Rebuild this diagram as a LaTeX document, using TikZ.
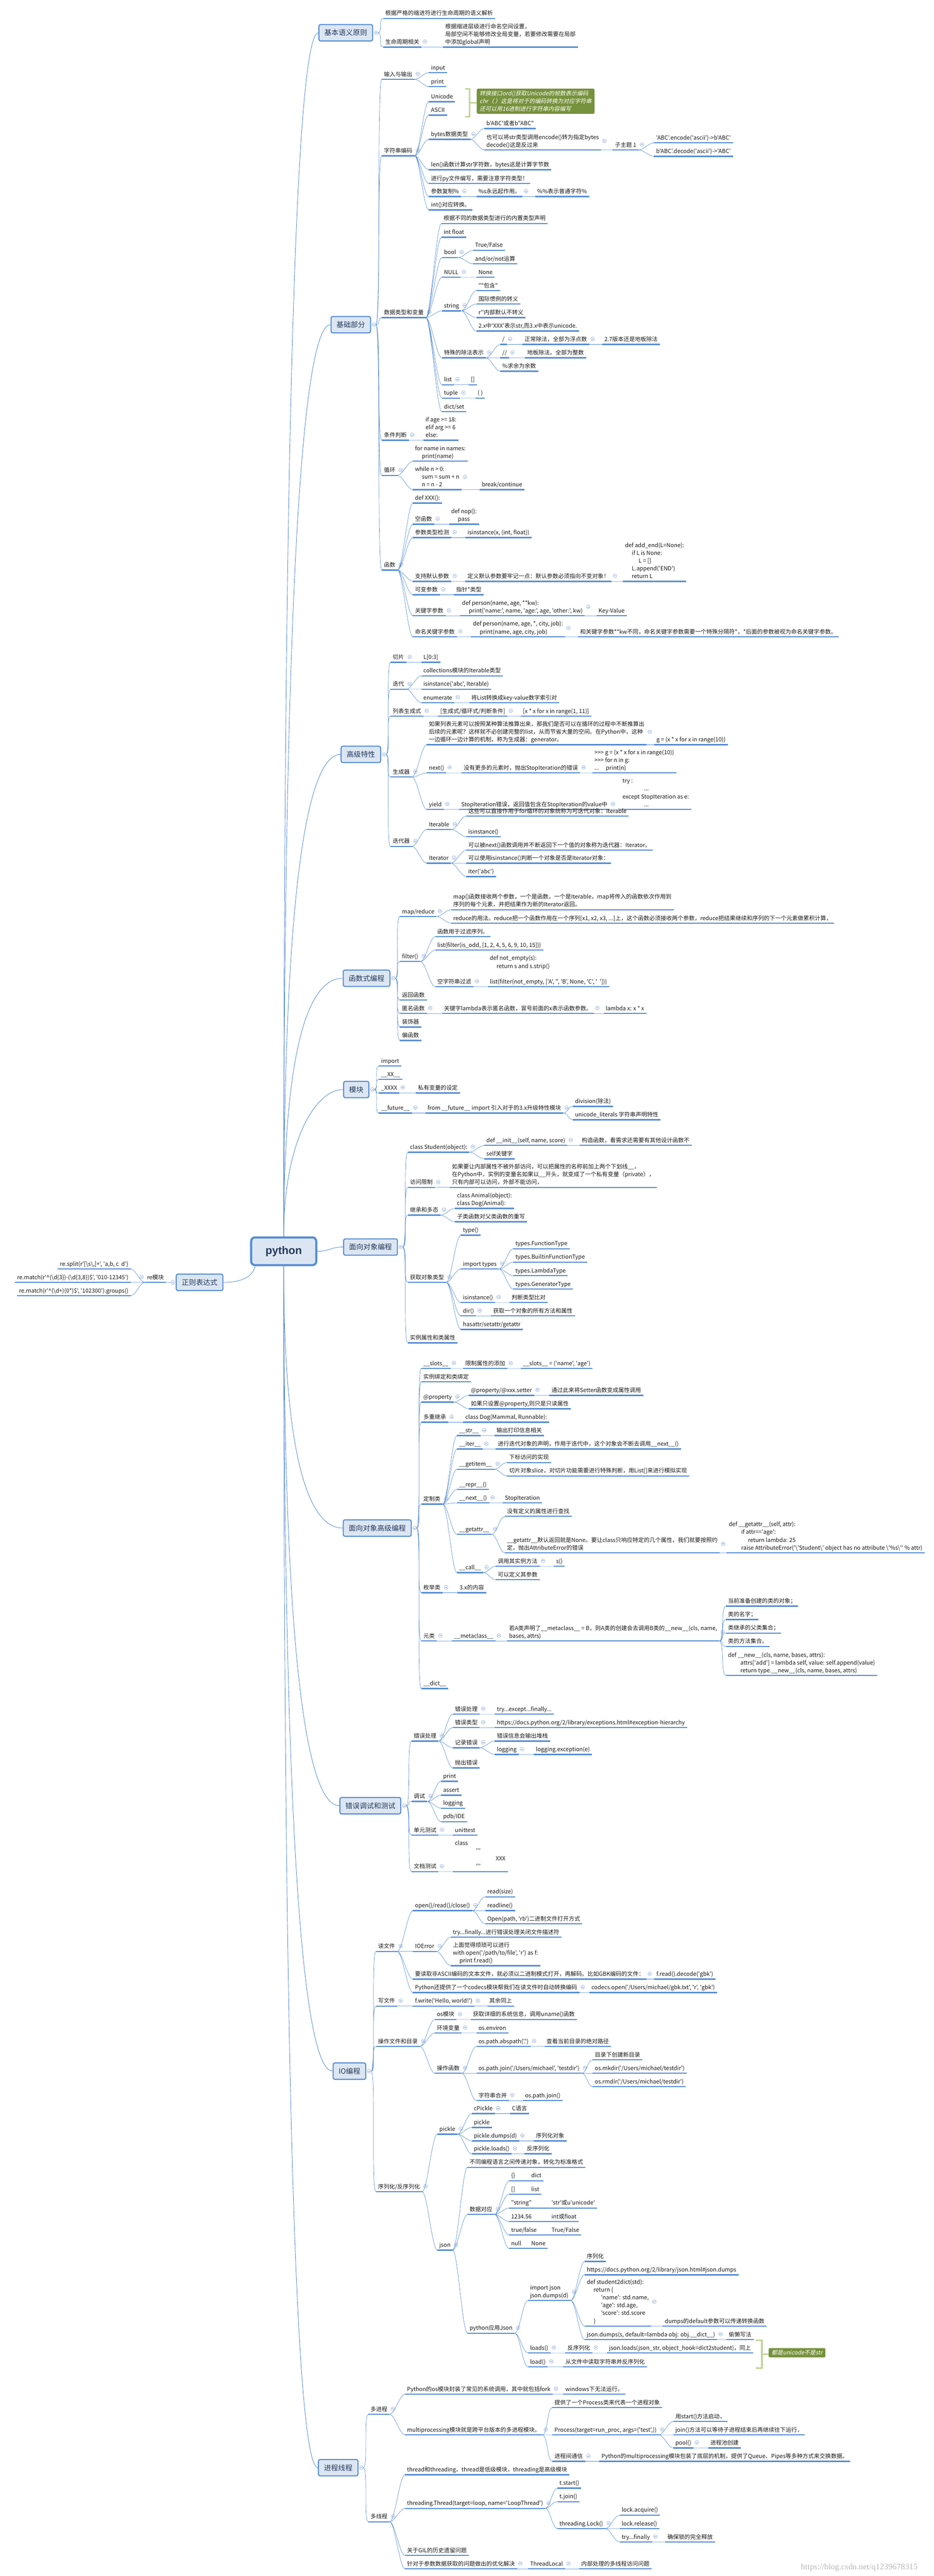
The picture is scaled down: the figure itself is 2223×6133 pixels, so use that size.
\documentclass[tikz,border=0pt]{standalone}
\usepackage{fontspec}
\setmainfont{Noto Sans CJK SC}[Ligatures=TeXOff]
\newfontfamily\slantfont{Noto Sans CJK SC}[FakeSlant=0.2,Ligatures=TeXOff]
\newfontfamily\rootfont{Liberation Sans}
\newfontfamily\markfont{Liberation Serif}
\usetikzlibrary{positioning}
\definecolor{mline}{RGB}{86,141,212}
\definecolor{boxfill}{RGB}{220,230,242}
\definecolor{titlec}{RGB}{36,56,92}
\definecolor{leafc}{RGB}{25,25,25}
\definecolor{callc}{RGB}{118,146,60}
\definecolor{bracec}{RGB}{195,214,155}
\definecolor{foldc}{RGB}{120,152,205}

\begin{document}
\begin{tikzpicture}[x=1pt, y=1pt,
  leaf/.style={anchor=south west, inner xsep=5pt, inner ysep=1.5pt, text=leafc, align=left,
    font=\fontsize{13.5}{18.5}\selectfont,
    execute at end node={\strut},
    append after command={\pgfextra{\pgfinterruptpath
      \draw[uline] (\tikzlastnode.south west) -- (\tikzlastnode.south east);
      \endpgfinterruptpath}}},
  leafl/.style={leaf, anchor=south east},
  uline/.style={draw=mline, line width=3pt},
  foldmark/.style={circle, draw=foldc, fill=white, line width=0.6pt, minimum size=9pt, inner sep=0pt,
    path picture={\draw[foldc, line width=0.7pt] ([xshift=-2.3pt]path picture bounding box.center) -- ([xshift=2.3pt]path picture bounding box.center);}},
  fold/.style={append after command={node[foldmark] at ([shift={(8pt,2pt)}]\tikzlastnode.east) {}}},
  foldl/.style={append after command={node[foldmark] at ([shift={(-8pt,2pt)}]\tikzlastnode.west) {}}},
  topic/.style={anchor=west, rounded corners=4pt, draw=mline, line width=2.5pt, fill=boxfill,
    text=titlec, font=\fontsize{17}{20}\selectfont, inner xsep=13pt, minimum height=39pt},
  tfold/.style={append after command={node[foldmark] at ([xshift=7pt]\tikzlastnode.east) {}}},
  tfoldl/.style={append after command={node[foldmark] at ([xshift=-7pt]\tikzlastnode.west) {}}},
  root/.style={rounded corners=9pt, draw=mline, line width=5pt, fill=boxfill, text=titlec,
    font=\rootfont\bfseries\fontsize{26}{30}\selectfont, minimum width=155pt, minimum height=66pt},
  link/.style={draw=mline, line width=0.8pt,
    to path={.. controls ([xshift=12pt]\tikztostart) and ([xshift=-12pt]\tikztotarget) .. (\tikztotarget)}},
  linkl/.style={draw=mline, line width=0.8pt,
    to path={.. controls ([xshift=-12pt]\tikztostart) and ([xshift=12pt]\tikztotarget) .. (\tikztotarget)}},
  trunk/.style={draw=mline, line width=1.1pt},
  callout/.style={anchor=north west, fill=callc, text=white, rounded corners=3pt, align=left,
    inner xsep=7pt, inner ysep=5pt, font=\slantfont\fontsize{13.5}{18.5}\selectfont},
  brace/.style={draw=bracec, line width=4pt},
  wmark/.style={text=black!28, font=\markfont\fontsize{20}{22}\selectfont}]

\useasboundingbox (0,0) rectangle (2223,-6133);
\fill[white] (0,0) rectangle (2223,-6133);

% root and main topics
\node[root] (python) at (675.5,-2979) {python};
\node[topic, tfold] (t1) at (758,-78) {基本语义原则};
\node[topic, tfold] (t2) at (787,-773) {基础部分};
\node[topic, tfold] (t3) at (811,-1796) {高级特性};
\node[topic, tfold] (t4) at (816,-2329) {函数式编程};
\node[topic, tfold] (t5) at (817,-2594) {模块};
\node[topic, tfold] (t6) at (817,-2969) {面向对象编程};
\node[topic, tfold] (t7) at (816,-3638) {面向对象高级编程};
\node[topic, tfold] (t8) at (808,-4299) {错误调试和测试};
\node[topic, tfold] (t9) at (792,-4931) {IO编程};
\node[topic, tfold] (t10) at (757,-5875) {进程线程};
\node[topic, tfoldl, anchor=east] (re) at (532,-3053) {正则表达式};
\coordinate (t1o) at ([xshift=11.5pt]t1.east);
\coordinate (t2o) at ([xshift=11.5pt]t2.east);
\coordinate (t3o) at ([xshift=11.5pt]t3.east);
\coordinate (t4o) at ([xshift=11.5pt]t4.east);
\coordinate (t5o) at ([xshift=11.5pt]t5.east);
\coordinate (t6o) at ([xshift=11.5pt]t6.east);
\coordinate (t7o) at ([xshift=11.5pt]t7.east);
\coordinate (t8o) at ([xshift=11.5pt]t8.east);
\coordinate (t9o) at ([xshift=11.5pt]t9.east);
\coordinate (t10o) at ([xshift=11.5pt]t10.east);
\coordinate (reo) at ([xshift=-11.5pt]re.west);

\draw[trunk] (python.north) .. controls (675.5,-651) and (717,-78) .. (t1.west);
\draw[trunk] (python.north) .. controls (675.5,-1207) and (732,-773) .. (t2.west);
\draw[trunk] (python.north) .. controls (675.5,-2025) and (744,-1796) .. (t3.west);
\draw[trunk] (python.north) .. controls (675.5,-2452) and (746,-2329) .. (t4.west);
\draw[trunk] (python.north) .. controls (675.5,-2720) and (750,-2594) .. (t5.west);
\draw[trunk] (python.east) .. controls (786,-2979) and (786,-2969) .. (t6.west);
\draw[trunk] (python.south) .. controls (675.5,-3513) and (746,-3638) .. (t7.west);
\draw[trunk] (python.south) .. controls (675.5,-4042) and (742,-4299) .. (t8.west);
\draw[trunk] (python.south) .. controls (675.5,-4548) and (734,-4931) .. (t9.west);
\draw[trunk] (python.south) .. controls (675.5,-5303) and (716,-5875) .. (t10.west);
\draw[trunk] ([xshift=12pt]python.south west) .. controls (600,-3045) and (565,-3053) .. (re.east);

% 基本语义原则
\node[leaf] (a1) at (912,-44) {根据严格的缩进符进行生命周期的语义解析};
\node[leaf, fold] (a2) at (912,-112) {生命周期相关};
\node[leaf] (a2a) at (1055,-112) {根据缩进层级进行命名空间设置，\\局部空间不能够修改全局变量，若要修改需要在局部\\中添加global声明};
\path[link] (t1o) to (a1.south west) (t1o) to (a2.south west)
  (a2.south east) to (a2a.south west);

% 基础部分
\node[leaf, fold] (b1) at (909,-189) {输入与输出};
\node[leaf] (b1a) at (1021,-173) {input};
\node[leaf] (b1b) at (1021,-206) {print};
\node[leaf, fold] (b2) at (909,-371) {字符串编码};
\node[leaf] (b2a) at (1021,-242) {Unicode};
\node[leaf] (b2b) at (1021,-274) {ASCII};
\node[leaf, fold] (b2c) at (1021,-332) {bytes数据类型};
\node[leaf] (b2c1) at (1153,-306) {b'ABC'或者b"ABC"};
\node[leaf, fold] (b2c2) at (1153,-357) {也可以将str类型调用encode()转为指定bytes\\decode()这是反过来};
\node[leaf, fold] (b2c3) at (1459,-357) {子主题 1};
\node[leaf] (b2c3a) at (1557,-340) {'ABC'.encode('ascii')->b'ABC'};
\node[leaf] (b2c3b) at (1557,-372) {b'ABC'.decode('ascii')->'ABC'};
\node[leaf] (b2d) at (1021,-404) {len()函数计算str字符数，bytes这是计算字节数};
\node[leaf] (b2e) at (1021,-437) {进行py文件编写，需要注意字符类型！};
\node[leaf, fold] (b2f) at (1021,-468) {参数复制\%};
\node[leaf, fold] (b2f1) at (1134,-468) {\%s永远起作用。};
\node[leaf] (b2f2) at (1274,-468) {\%\%表示普通字符\%};
\node[leaf] (b2g) at (1021,-500) {int()对应转换。};
\draw[brace] (1107,-212) -- (1118,-212) -- (1118,-278) -- (1107,-278) (1118,-245) -- (1135,-245);
\node[callout] (note1) at (1135,-211) {转换接口ord()获取Unicode的帧数表示编码\\chr（ ）这是将对于的编码转换为对应字符串\\还可以用16进制进行字符串内容编写};

\node[leaf, fold] (b3) at (909,-756) {数据类型和变量};
\node[leaf] (b3a) at (1051,-532) {根据不同的数据类型进行的内置类型声明};
\node[leaf] (b3b) at (1051,-565) {int float};
\node[leaf, fold] (b3c) at (1052,-613) {bool};
\node[leaf] (b3c1) at (1126,-596) {True/False};
\node[leaf] (b3c2) at (1126,-628) {and/or/not运算};
\node[leaf, fold] (b3d) at (1052,-660) {NULL};
\node[leaf] (b3d1) at (1134,-660) {None};
\node[leaf, fold] (b3e) at (1052,-740) {string};
\node[leaf] (b3e1) at (1134,-692) {""包含"};
\node[leaf] (b3e2) at (1134,-724) {国际惯例的转义};
\node[leaf] (b3e3) at (1134,-756) {r''内部默认不转义};
\node[leaf] (b3e4) at (1134,-788) {2.x中'XXX'表示str,而3.x中表示unicode.};
\node[leaf, fold] (b3f) at (1052,-852) {特殊的除法表示};
\node[leaf, fold] (b3f1) at (1191,-820) {/};
\node[leaf, fold] (b3f1a) at (1244,-820) {正常除法，全部为浮点数};
\node[leaf] (b3f1b) at (1434,-820) {2.7版本还是地板除法};
\node[leaf, fold] (b3f2) at (1191,-852) {//};
\node[leaf] (b3f2a) at (1250,-852) {地板除法。全部为整数};
\node[leaf] (b3f3) at (1191,-884) {\%求余为余数};
\node[leaf, fold] (b3g) at (1052,-916) {list};
\node[leaf] (b3g1) at (1116,-916) {[]};
\node[leaf, fold] (b3h) at (1052,-948) {tuple};
\node[leaf] (b3h1) at (1132,-948) {( )};
\node[leaf] (b3i) at (1052,-980) {dict/set};

\node[leaf, fold] (b4) at (909,-1048) {条件判断};
\node[leaf] (b4a) at (1008,-1048) {if age >= 18:\\elif arg >= 6\\else:};
\node[leaf, fold] (b5) at (909,-1132) {循环};
\node[leaf] (b5a) at (983,-1098) {for name in names:\\\hspace*{1.2em}print(name)};
\node[leaf, fold] (b5b) at (983,-1166) {while n > 0:\\\hspace*{1.2em}sum = sum + n\\\hspace*{1.2em}n = n - 2};
\node[leaf] (b5b1) at (1142,-1166) {break/continue};

\node[leaf, fold] (b6) at (909,-1357) {函数};
\node[leaf] (b6a) at (983,-1198) {def XXX():};
\node[leaf, fold] (b6b) at (983,-1248) {空函数};
\node[leaf] (b6b1) at (1069,-1248) {def nop():\\\hspace*{1.2em}pass};
\node[leaf, fold] (b6c) at (983,-1280) {参数类型检测};
\node[leaf] (b6c1) at (1108,-1280) {isinstance(x, (int, float))};
\node[leaf, fold] (b6d) at (983,-1384) {支持默认参数};
\node[leaf, fold] (b6d1) at (1108,-1384) {定义默认参数要牢记一点：默认参数必须指向不变对象！};
\node[leaf] (b6d2) at (1483,-1384) {def add\_end(L=None):\\\hspace*{1.2em}if L is None:\\\hspace*{2.4em}L = []\\\hspace*{1.2em}L.append('END')\\\hspace*{1.2em}return L};
\node[leaf, fold] (b6e) at (983,-1416) {可变参数};
\node[leaf] (b6e1) at (1081,-1416) {指针*类型};
\node[leaf, fold] (b6f) at (983,-1466) {关键字参数};
\node[leaf, fold] (b6f1) at (1095,-1466) {def person(name, age, **kw):\\\hspace*{1.2em}print('name:', name, 'age:', age, 'other:', kw)};
\node[leaf] (b6f2) at (1420,-1466) {Key-Value};
\node[leaf, fold] (b6g) at (983,-1516) {命名关键字参数};
\node[leaf, fold] (b6g1) at (1121,-1516) {def person(name, age, *, city, job):\\\hspace*{1.2em}print(name, age, city, job)};
\node[leaf] (b6g2) at (1376,-1516) {和关键字参数**kw不同，命名关键字参数需要一个特殊分隔符*，*后面的参数被视为命名关键字参数。};

\path[link] (t2o) to (b1.south west) (t2o) to (b2.south west) (t2o) to (b3.south west)
  (t2o) to (b4.south west) (t2o) to (b5.south west) (t2o) to (b6.south west)
  (b1.south east) to (b1a.south west) (b1.south east) to (b1b.south west)
  (b2.south east) to (b2a.south west) (b2.south east) to (b2b.south west)
  (b2.south east) to (b2c.south west) (b2.south east) to (b2d.south west)
  (b2.south east) to (b2e.south west) (b2.south east) to (b2f.south west)
  (b2.south east) to (b2g.south west)
  (b2c.south east) to (b2c1.south west) (b2c.south east) to (b2c2.south west)
  (b2c2.south east) to (b2c3.south west)
  (b2c3.south east) to (b2c3a.south west) (b2c3.south east) to (b2c3b.south west)
  (b2f.south east) to (b2f1.south west) (b2f1.south east) to (b2f2.south west)
  (b3.south east) to (b3a.south west) (b3.south east) to (b3b.south west)
  (b3.south east) to (b3c.south west) (b3.south east) to (b3d.south west)
  (b3.south east) to (b3e.south west) (b3.south east) to (b3f.south west)
  (b3.south east) to (b3g.south west) (b3.south east) to (b3h.south west)
  (b3.south east) to (b3i.south west)
  (b3c.south east) to (b3c1.south west) (b3c.south east) to (b3c2.south west)
  (b3d.south east) to (b3d1.south west)
  (b3e.south east) to (b3e1.south west) (b3e.south east) to (b3e2.south west)
  (b3e.south east) to (b3e3.south west) (b3e.south east) to (b3e4.south west)
  (b3f.south east) to (b3f1.south west) (b3f.south east) to (b3f2.south west)
  (b3f.south east) to (b3f3.south west)
  (b3f1.south east) to (b3f1a.south west) (b3f1a.south east) to (b3f1b.south west)
  (b3f2.south east) to (b3f2a.south west)
  (b3g.south east) to (b3g1.south west) (b3h.south east) to (b3h1.south west)
  (b4.south east) to (b4a.south west)
  (b5.south east) to (b5a.south west) (b5.south east) to (b5b.south west)
  (b5b.south east) to (b5b1.south west)
  (b6.south east) to (b6a.south west) (b6.south east) to (b6b.south west)
  (b6.south east) to (b6c.south west) (b6.south east) to (b6d.south west)
  (b6.south east) to (b6e.south west) (b6.south east) to (b6f.south west)
  (b6.south east) to (b6g.south west)
  (b6b.south east) to (b6b1.south west) (b6c.south east) to (b6c1.south west)
  (b6d.south east) to (b6d1.south west) (b6d1.south east) to (b6d2.south west)
  (b6e.south east) to (b6e1.south west)
  (b6f.south east) to (b6f1.south west) (b6f1.south east) to (b6f2.south west)
  (b6g.south east) to (b6g1.south west) (b6g1.south east) to (b6g2.south west);

% 高级特性
\node[leaf, fold] (c1) at (930,-1577) {切片};
\node[leaf] (c1a) at (1003,-1577) {L[0:3]};
\node[leaf, fold] (c2) at (930,-1641) {迭代};
\node[leaf] (c2a) at (1003,-1609) {collections模块的Iterable类型};
\node[leaf] (c2b) at (1003,-1641) {isinstance('abc', Iterable)};
\node[leaf, fold] (c2c) at (1003,-1673) {enumerate};
\node[leaf] (c2c1) at (1117,-1673) {将List转换成key-value数字索引对};
\node[leaf, fold] (c3) at (930,-1705) {列表生成式};
\node[leaf, fold] (c3a) at (1043,-1705) {[生成式/循环式/判断条件]};
\node[leaf] (c3b) at (1240,-1705) {[x * x for x in range(1, 11)]};
\node[leaf, fold] (c4) at (930,-1850) {生成器};
\node[leaf, fold] (c4a) at (1016,-1773) {如果列表元素可以按照某种算法推算出来，那我们是否可以在循环的过程中不断推算出\\后续的元素呢？这样就不必创建完整的list，从而节省大量的空间。在Python中，这种\\一边循环一边计算的机制，称为生成器：generator。};
\node[leaf] (c4a1) at (1558,-1773) {g = (x * x for x in range(10))};
\node[leaf, fold] (c4b) at (1016,-1840) {next()};
\node[leaf, fold] (c4b1) at (1099,-1840) {没有更多的元素时，抛出StopIteration的错误};
\node[leaf] (c4b2) at (1410,-1840) {>>> g = (x * x for x in range(10))\\>>> for n in g:\\...\hspace*{1.2em}print(n)};
\node[leaf, fold] (c4c) at (1016,-1927) {yield};
\node[leaf, fold] (c4c1) at (1093,-1927) {StopIteration错误，返回值包含在StopIteration的value中};
\node[leaf] (c4c2) at (1477,-1927) {try :\\\hspace*{3.8em}...\\except StopIteration as e:\\\hspace*{3.8em}...};
\node[leaf, fold] (c5) at (930,-2015) {迭代器};
\node[leaf, fold] (c5a) at (1016,-1975) {Iterable};
\node[leaf] (c5a1) at (1110,-1943) {这些可以直接作用于for循环的对象统称为可迭代对象：Iterable};
\node[leaf] (c5a2) at (1110,-1992) {isinstance()};
\node[leaf, fold] (c5b) at (1016,-2055) {Iterator};
\node[leaf] (c5b1) at (1110,-2024) {可以被next()函数调用并不断返回下一个值的对象称为迭代器：Iterator。};
\node[leaf] (c5b2) at (1110,-2055) {可以使用isinstance()判断一个对象是否是Iterator对象：};
\node[leaf] (c5b3) at (1110,-2087) {iter('abc')};

\path[link] (t3o) to (c1.south west) (t3o) to (c2.south west) (t3o) to (c3.south west)
  (t3o) to (c4.south west) (t3o) to (c5.south west)
  (c1.south east) to (c1a.south west)
  (c2.south east) to (c2a.south west) (c2.south east) to (c2b.south west)
  (c2.south east) to (c2c.south west) (c2c.south east) to (c2c1.south west)
  (c3.south east) to (c3a.south west) (c3a.south east) to (c3b.south west)
  (c4.south east) to (c4a.south west) (c4.south east) to (c4b.south west)
  (c4.south east) to (c4c.south west) (c4a.south east) to (c4a1.south west)
  (c4b.south east) to (c4b1.south west) (c4b1.south east) to (c4b2.south west)
  (c4c.south east) to (c4c1.south west) (c4c1.south east) to (c4c2.south west)
  (c5.south east) to (c5a.south west) (c5.south east) to (c5b.south west)
  (c5a.south east) to (c5a1.south west) (c5a.south east) to (c5a2.south west)
  (c5b.south east) to (c5b1.south west) (c5b.south east) to (c5b2.south west)
  (c5b.south east) to (c5b3.south west);

% 函数式编程
\node[leaf, fold] (d1) at (952,-2182) {map/reduce};
\node[leaf] (d1a) at (1074,-2166) {map()函数接收两个参数，一个是函数，一个是Iterable，map将传入的函数依次作用到\\序列的每个元素，并把结果作为新的Iterator返回。};
\node[leaf] (d1b) at (1074,-2198) {reduce的用法。reduce把一个函数作用在一个序列[x1, x2, x3, ...]上，这个函数必须接收两个参数，reduce把结果继续和序列的下一个元素做累积计算，};
\node[leaf, fold] (d2) at (952,-2289) {filter()};
\node[leaf] (d2a) at (1036,-2230) {函数用于过滤序列。};
\node[leaf] (d2b) at (1036,-2262) {list(filter(is\_odd, [1, 2, 4, 5, 6, 9, 10, 15]))};
\node[leaf, fold] (d2c) at (1036,-2349) {空字符串过滤};
\node[leaf] (d2c1) at (1161,-2349) {def not\_empty(s):\\\hspace*{1.2em}return s and s.strip()\\ \\list(filter(not\_empty, ['A', '', 'B', None, 'C', '\ \ ']))};
\node[leaf] (d3) at (952,-2381) {返回函数};
\node[leaf, fold] (d4) at (952,-2413) {匿名函数};
\node[leaf, fold] (d4a) at (1052,-2413) {关键字lambda表示匿名函数，冒号前面的x表示函数参数。};
\node[leaf] (d4b) at (1437,-2413) {lambda x: x * x};
\node[leaf] (d5) at (952,-2445) {装饰器};
\node[leaf] (d6) at (952,-2477) {偏函数};

\path[link] (t4o) to (d1.south west) (t4o) to (d2.south west) (t4o) to (d3.south west)
  (t4o) to (d4.south west) (t4o) to (d5.south west) (t4o) to (d6.south west)
  (d1.south east) to (d1a.south west) (d1.south east) to (d1b.south west)
  (d2.south east) to (d2a.south west) (d2.south east) to (d2b.south west)
  (d2.south east) to (d2c.south west) (d2c.south east) to (d2c1.south west)
  (d4.south east) to (d4a.south west) (d4a.south east) to (d4b.south west);

% 模块
\node[leaf] (e1) at (902,-2538) {import};
\node[leaf] (e2) at (902,-2570) {\_\_XX\_\_};
\node[leaf, fold] (e3) at (902,-2602) {\_XXXX};
\node[leaf] (e3a) at (990,-2602) {私有变量的设定};
\node[leaf, fold] (e4) at (902,-2650) {\_\_future\_\_};
\node[leaf, fold] (e4a) at (1013,-2650) {from \_\_future\_\_ import 引入对于的3.x升级特性模块};
\node[leaf] (e4a1) at (1364,-2634) {division(除法)};
\node[leaf] (e4a2) at (1364,-2666) {unicode\_literals 字符串声明特性};

\path[link] (t5o) to (e1.south west) (t5o) to (e2.south west) (t5o) to (e3.south west)
  (t5o) to (e4.south west)
  (e3.south east) to (e3a.south west) (e4.south east) to (e4a.south west)
  (e4a.south east) to (e4a1.south west) (e4a.south east) to (e4a2.south west);

% 面向对象编程
\node[leaf, fold] (f1) at (971,-2743) {class Student(object):};
\node[leaf, fold] (f1a) at (1153,-2727) {def \_\_init\_\_(self, name, score)};
\node[leaf] (f1a1) at (1380,-2727) {构造函数，看需求还需要有其他设计函数不};
\node[leaf] (f1b) at (1153,-2759) {self关键字};
\node[leaf, fold] (f2) at (971,-2827) {访问限制};
\node[leaf] (f2a) at (1071,-2827) {如果要让内部属性不被外部访问，可以把属性的名称前加上两个下划线\_\_，\\在Python中，实例的变量名如果以\_\_开头，就变成了一个私有变量（private），\\只有内部可以访问，外部不能访问，};
\node[leaf, fold] (f3) at (971,-2893) {继承和多态};
\node[leaf] (f3a) at (1083,-2877) {class Animal(object):\\class Dog(Animal):};
\node[leaf] (f3b) at (1083,-2909) {子类函数对父类函数的重写};
\node[leaf, fold] (f4) at (971,-3053) {获取对象类型};
\node[leaf] (f4a) at (1097,-2941) {type()};
\node[leaf, fold] (f4b) at (1097,-3021) {import types};
\node[leaf] (f4b1) at (1222,-2973) {types.FunctionType};
\node[leaf] (f4b2) at (1222,-3005) {types.BuiltinFunctionType};
\node[leaf] (f4b3) at (1222,-3037) {types.LambdaType};
\node[leaf] (f4b4) at (1222,-3069) {types.GeneratorType};
\node[leaf, fold] (f4c) at (1097,-3101) {isinstance()};
\node[leaf] (f4c1) at (1213,-3101) {判断类型比对};
\node[leaf, fold] (f4d) at (1097,-3133) {dir()};
\node[leaf] (f4d1) at (1169,-3133) {获取一个对象的所有方法和属性};
\node[leaf] (f4e) at (1097,-3165) {hasattr/setattr/getattr};
\node[leaf] (f5) at (971,-3197) {实例属性和类属性};

\path[link] (t6o) to (f1.south west) (t6o) to (f2.south west) (t6o) to (f3.south west)
  (t6o) to (f4.south west) (t6o) to (f5.south west)
  (f1.south east) to (f1a.south west) (f1.south east) to (f1b.south west)
  (f1a.south east) to (f1a1.south west) (f2.south east) to (f2a.south west)
  (f3.south east) to (f3a.south west) (f3.south east) to (f3b.south west)
  (f4.south east) to (f4a.south west) (f4.south east) to (f4b.south west)
  (f4.south east) to (f4c.south west) (f4.south east) to (f4d.south west)
  (f4.south east) to (f4e.south west)
  (f4b.south east) to (f4b1.south west) (f4b.south east) to (f4b2.south west)
  (f4b.south east) to (f4b3.south west) (f4b.south east) to (f4b4.south west)
  (f4c.south east) to (f4c1.south west) (f4d.south east) to (f4d1.south west);

% 面向对象高级编程
\node[leaf, fold] (g1) at (1003,-3258) {\_\_slots\_\_};
\node[leaf, fold] (g1a) at (1103,-3258) {限制属性的添加};
\node[leaf] (g1b) at (1240,-3258) {\_\_slots\_\_ = ('name', 'age')};
\node[leaf] (g2) at (1003,-3290) {实例绑定和类绑定};
\node[leaf, fold] (g3) at (1003,-3338) {@property};
\node[leaf, fold] (g3a) at (1116,-3322) {@property/@xxx.setter};
\node[leaf] (g3a1) at (1308,-3322) {通过此来将Setter函数变成属性调用};
\node[leaf] (g3b) at (1116,-3354) {如果只设置@property,则只是只读属性};
\node[leaf, fold] (g4) at (1003,-3386) {多重继承};
\node[leaf] (g4a) at (1103,-3386) {class Dog(Mammal, Runnable):};
\node[leaf, fold] (g5) at (1003,-3581) {定制类};
\node[leaf, fold] (g5a) at (1088,-3418) {\_\_str\_\_};
\node[leaf] (g5a1) at (1177,-3418) {输出打印信息相关};
\node[leaf, fold] (g5b) at (1088,-3450) {\_\_iter\_\_};
\node[leaf] (g5b1) at (1180,-3450) {进行迭代对象的声明，作用于迭代中，这个对象会不断去调用\_\_next\_\_()};
\node[leaf, fold] (g5c) at (1088,-3498) {\_\_getitem\_\_};
\node[leaf] (g5c1) at (1207,-3482) {下标访问的实现};
\node[leaf] (g5c2) at (1207,-3514) {切片对象slice，对切片功能需要进行特殊判断，用List[]来进行模拟实现};
\node[leaf] (g5d) at (1088,-3546) {\_\_repr\_\_()};
\node[leaf, fold] (g5e) at (1088,-3578) {\_\_next\_\_()};
\node[leaf] (g5e1) at (1197,-3578) {StopIteration};
\node[leaf, fold] (g5f) at (1088,-3653) {\_\_getattr\_\_};
\node[leaf] (g5f1) at (1202,-3610) {没有定义的属性进行查找};
\node[leaf, fold] (g5f2) at (1202,-3697) {\_\_getattr\_\_默认返回就是None。要让class只响应特定的几个属性，我们就要按照约\\定，抛出AttributeError的错误};
\node[leaf] (g5f3) at (1730,-3697) {def \_\_getattr\_\_(self, attr):\\\hspace*{2.2em}if attr=='age':\\\hspace*{3.4em}return lambda: 25\\\hspace*{2.2em}raise AttributeError('\textbackslash'Student\textbackslash' object has no attribute \textbackslash'\%s\textbackslash'' \% attr)};
\node[leaf, fold] (g5g) at (1088,-3744) {\_\_call\_\_};
\node[leaf, fold] (g5g1) at (1180,-3729) {调用其实例方法};
\node[leaf] (g5g1a) at (1319,-3729) {s()};
\node[leaf] (g5g2) at (1180,-3761) {可以定义其参数};
\node[leaf, fold] (g6) at (1003,-3792) {枚举类};
\node[leaf] (g6a) at (1089,-3792) {3.x的内容};
\node[leaf, fold] (g7) at (1003,-3907) {元类};
\node[leaf, fold] (g7a) at (1076,-3907) {\_\_metaclass\_\_};
\node[leaf, fold] (g7b) at (1207,-3907) {若A类声明了\_\_metaclass\_\_ = B，则A类的创建会去调用B类的\_\_new\_\_(cls, name,\\bases, attrs)};
\node[leaf] (g7b1) at (1728,-3824) {当前准备创建的类的对象；};
\node[leaf] (g7b2) at (1728,-3856) {类的名字；};
\node[leaf] (g7b3) at (1728,-3888) {类继承的父类集合；};
\node[leaf] (g7b4) at (1728,-3920) {类的方法集合。};
\node[leaf] (g7b5) at (1728,-3989) {def \_\_new\_\_(cls, name, bases, attrs):\\\hspace*{2.2em}attrs['add'] = lambda self, value: self.append(value)\\\hspace*{2.2em}return type.\_\_new\_\_(cls, name, bases, attrs)};
\node[leaf] (g8) at (1003,-4020) {\_\_dict\_\_};

\path[link] (t7o) to (g1.south west) (t7o) to (g2.south west) (t7o) to (g3.south west)
  (t7o) to (g4.south west) (t7o) to (g5.south west) (t7o) to (g6.south west)
  (t7o) to (g7.south west) (t7o) to (g8.south west)
  (g1.south east) to (g1a.south west) (g1a.south east) to (g1b.south west)
  (g3.south east) to (g3a.south west) (g3.south east) to (g3b.south west)
  (g3a.south east) to (g3a1.south west) (g4.south east) to (g4a.south west)
  (g5.south east) to (g5a.south west) (g5.south east) to (g5b.south west)
  (g5.south east) to (g5c.south west) (g5.south east) to (g5d.south west)
  (g5.south east) to (g5e.south west) (g5.south east) to (g5f.south west)
  (g5.south east) to (g5g.south west)
  (g5a.south east) to (g5a1.south west) (g5b.south east) to (g5b1.south west)
  (g5c.south east) to (g5c1.south west) (g5c.south east) to (g5c2.south west)
  (g5e.south east) to (g5e1.south west)
  (g5f.south east) to (g5f1.south west) (g5f.south east) to (g5f2.south west)
  (g5f2.south east) to (g5f3.south west)
  (g5g.south east) to (g5g1.south west) (g5g.south east) to (g5g2.south west)
  (g5g1.south east) to (g5g1a.south west)
  (g6.south east) to (g6a.south west)
  (g7.south east) to (g7a.south west) (g7a.south east) to (g7b.south west)
  (g7b.south east) to (g7b1.south west) (g7b.south east) to (g7b2.south west)
  (g7b.south east) to (g7b3.south west) (g7b.south east) to (g7b4.south west)
  (g7b.south east) to (g7b5.south west);

% 错误调试和测试
\node[leaf, fold] (h1) at (980,-4145) {错误处理};
\node[leaf, fold] (h1a) at (1078,-4081) {错误处理};
\node[leaf] (h1a1) at (1178,-4081) {try...except...finally...};
\node[leaf, fold] (h1b) at (1078,-4113) {错误类型};
\node[leaf] (h1b1) at (1178,-4113) {https://docs.python.org/2/library/exceptions.html\#exception-hierarchy};
\node[leaf, fold] (h1c) at (1078,-4161) {记录错误};
\node[leaf] (h1c1) at (1178,-4145) {错误信息会输出堆栈};
\node[leaf, fold] (h1c2) at (1178,-4177) {logging};
\node[leaf] (h1c2a) at (1271,-4177) {logging.exception(e)};
\node[leaf] (h1d) at (1078,-4209) {抛出错误};
\node[leaf, fold] (h2) at (980,-4289) {调试};
\node[leaf] (h2a) at (1050,-4241) {print};
\node[leaf] (h2b) at (1050,-4274) {assert};
\node[leaf] (h2c) at (1050,-4305) {logging};
\node[leaf] (h2d) at (1050,-4337) {pdb/IDE};
\node[leaf, fold] (h3) at (980,-4369) {单元测试};
\node[leaf] (h3a) at (1078,-4369) {unittest};
\node[leaf, fold] (h4) at (980,-4456) {文档测试};
\node[leaf] (h4a) at (1078,-4456) {class\\\hspace*{3.7em}'''\\\hspace*{7.2em}XXX\\\hspace*{3.7em}'''};

\path[link] (t8o) to (h1.south west) (t8o) to (h2.south west) (t8o) to (h3.south west)
  (t8o) to (h4.south west)
  (h1.south east) to (h1a.south west) (h1.south east) to (h1b.south west)
  (h1.south east) to (h1c.south west) (h1.south east) to (h1d.south west)
  (h1a.south east) to (h1a1.south west) (h1b.south east) to (h1b1.south west)
  (h1c.south east) to (h1c1.south west) (h1c.south east) to (h1c2.south west)
  (h1c2.south east) to (h1c2a.south west)
  (h2.south east) to (h2a.south west) (h2.south east) to (h2b.south west)
  (h2.south east) to (h2c.south west) (h2.south east) to (h2d.south west)
  (h3.south east) to (h3a.south west) (h4.south east) to (h4a.south west);

% IO编程
\node[leaf, fold] (i1) at (895,-4646) {读文件};
\node[leaf, fold] (i1a) at (983,-4549) {open()/read()/close()};
\node[leaf] (i1a1) at (1155,-4516) {read(size)};
\node[leaf] (i1a2) at (1155,-4549) {readline()};
\node[leaf] (i1a3) at (1155,-4580) {Open(path, 'rb')二进制文件打开方式};
\node[leaf, fold] (i1b) at (983,-4646) {IOError};
\node[leaf] (i1b1) at (1073,-4612) {try...finally...进行错误处理关闭文件描述符};
\node[leaf] (i1b2) at (1073,-4680) {上面觉得烦琐可以进行\\with open('/path/to/file', 'r') as f:\\\hspace*{1.2em}print f.read()};
\node[leaf, fold] (i1c) at (983,-4712) {要读取非ASCII编码的文本文件，就必须以二进制模式打开，再解码。比如GBK编码的文件：};
\node[leaf] (i1c1) at (1558,-4712) {f.read().decode('gbk')};
\node[leaf, fold] (i1d) at (983,-4744) {Python还提供了一个codecs模块帮我们在读文件时自动转换编码};
\node[leaf] (i1d1) at (1403,-4744) {codecs.open('/Users/michael/gbk.txt', 'r', 'gbk')};
\node[leaf, fold] (i2) at (895,-4776) {写文件};
\node[leaf, fold] (i2a) at (983,-4776) {f.write('Hello, world!')};
\node[leaf] (i2b) at (1160,-4776) {其余同上};
\node[leaf, fold] (i3) at (895,-4872) {操作文件和目录};
\node[leaf, fold] (i3a) at (1035,-4808) {os模块};
\node[leaf] (i3a1) at (1121,-4808) {获取详细的系统信息，调用uname()函数};
\node[leaf, fold] (i3b) at (1035,-4840) {环境变量};
\node[leaf] (i3b1) at (1134,-4840) {os.environ};
\node[leaf, fold] (i3c) at (1035,-4936) {操作函数};
\node[leaf, fold] (i3c1) at (1134,-4872) {os.path.abspath('.')};
\node[leaf] (i3c1a) at (1296,-4872) {查看当前目录的绝对路径};
\node[leaf, fold] (i3c2) at (1134,-4936) {os.path.join('/Users/michael', 'testdir')};
\node[leaf] (i3c2a) at (1411,-4904) {目录下创建新目录};
\node[leaf] (i3c2b) at (1411,-4936) {os.mkdir('/Users/michael/testdir')};
\node[leaf] (i3c2c) at (1411,-4968) {os.rmdir('/Users/michael/testdir')};
\node[leaf, fold] (i3c3) at (1134,-5001) {字符串合并};
\node[leaf] (i3c3a) at (1245,-5001) {os.path.join()};
\node[leaf, fold] (i4) at (895,-5218) {序列化/反序列化};
\node[leaf, fold] (i4a) at (1041,-5081) {pickle};
\node[leaf, fold] (i4a1) at (1123,-5032) {cPickle};
\node[leaf] (i4a1a) at (1214,-5032) {C语言};
\node[leaf] (i4a2) at (1123,-5065) {pickle};
\node[leaf, fold] (i4a3) at (1123,-5097) {pickle.dumps(d)};
\node[leaf] (i4a3a) at (1271,-5097) {序列化对象};
\node[leaf, fold] (i4a4) at (1123,-5128) {pickle.loads()};
\node[leaf] (i4a4a) at (1249,-5128) {反序列化};
\node[leaf, fold] (i4b) at (1041,-5357) {json};
\node[leaf] (i4b1) at (1113,-5160) {不同编程语言之间传递对象，转化为标准格式};
\node[leaf, fold] (i4b2) at (1113,-5272) {数据对应};
\node[leaf] (i4b2a) at (1212,-5192) {\makebox[48pt][l]{\{\}}dict};
\node[leaf] (i4b2b) at (1212,-5224) {\makebox[48pt][l]{[]}list};
\node[leaf] (i4b2c) at (1212,-5257) {\makebox[96pt][l]{"string"}'str'或u'unicode'};
\node[leaf] (i4b2d) at (1212,-5289) {\makebox[96pt][l]{1234.56}int或float};
\node[leaf] (i4b2e) at (1212,-5321) {\makebox[96pt][l]{true/false}True/False};
\node[leaf] (i4b2f) at (1212,-5353) {\makebox[48pt][l]{null}None};
\node[leaf, fold] (i4b3) at (1113,-5555) {python应用Json};
\node[leaf, fold] (i4b3a) at (1257,-5477) {import json\\json.dumps(d)};
\node[leaf] (i4b3a1) at (1392,-5384) {序列化};
\node[leaf] (i4b3a2) at (1392,-5416) {https://docs.python.org/2/library/json.html\#json.dumps};
\node[leaf, fold] (i4b3a3) at (1392,-5538) {def student2dict(std):\\\hspace*{1.2em}return \{\\\hspace*{2.5em}'name': std.name,\\\hspace*{2.5em}'age': std.age,\\\hspace*{2.5em}'score': std.score\\\hspace*{1.2em}\}};
\node[leaf] (i4b3a3a) at (1578,-5538) {dumps的default参数可以传递转换函数};
\node[leaf, fold] (i4b3a4) at (1392,-5570) {json.dumps(s, default=lambda obj: obj.\_\_dict\_\_)};
\node[leaf] (i4b3a4a) at (1730,-5570) {偷懒写法};
\node[leaf, fold] (i4b3b) at (1257,-5602) {loads()};
\node[leaf, fold] (i4b3b1) at (1346,-5602) {反序列化};
\node[leaf] (i4b3b2) at (1445,-5602) {json.loads(json\_str, object\_hook=dict2student)，同上};
\node[leaf, fold] (i4b3c) at (1257,-5635) {load()};
\node[leaf] (i4b3c1) at (1341,-5635) {从文件中读取字符串并反序列化};
\draw[brace] (1800,-5572) -- (1814,-5572) -- (1814,-5638) -- (1800,-5638) (1814,-5605) -- (1830,-5605);
\node[callout] (note2) at (1830,-5590) {都是unicode不是str};

\path[link] (t9o) to (i1.south west) (t9o) to (i2.south west) (t9o) to (i3.south west)
  (t9o) to (i4.south west)
  (i1.south east) to (i1a.south west) (i1.south east) to (i1b.south west)
  (i1.south east) to (i1c.south west) (i1.south east) to (i1d.south west)
  (i1a.south east) to (i1a1.south west) (i1a.south east) to (i1a2.south west)
  (i1a.south east) to (i1a3.south west)
  (i1b.south east) to (i1b1.south west) (i1b.south east) to (i1b2.south west)
  (i1c.south east) to (i1c1.south west) (i1d.south east) to (i1d1.south west)
  (i2.south east) to (i2a.south west) (i2a.south east) to (i2b.south west)
  (i3.south east) to (i3a.south west) (i3.south east) to (i3b.south west)
  (i3.south east) to (i3c.south west)
  (i3a.south east) to (i3a1.south west) (i3b.south east) to (i3b1.south west)
  (i3c.south east) to (i3c1.south west) (i3c.south east) to (i3c2.south west)
  (i3c.south east) to (i3c3.south west) (i3c1.south east) to (i3c1a.south west)
  (i3c2.south east) to (i3c2a.south west) (i3c2.south east) to (i3c2b.south west)
  (i3c2.south east) to (i3c2c.south west) (i3c3.south east) to (i3c3a.south west)
  (i4.south east) to (i4a.south west) (i4.south east) to (i4b.south west)
  (i4a.south east) to (i4a1.south west) (i4a.south east) to (i4a2.south west)
  (i4a.south east) to (i4a3.south west) (i4a.south east) to (i4a4.south west)
  (i4a1.south east) to (i4a1a.south west) (i4a3.south east) to (i4a3a.south west)
  (i4a4.south east) to (i4a4a.south west)
  (i4b.south east) to (i4b1.south west) (i4b.south east) to (i4b2.south west)
  (i4b.south east) to (i4b3.south west)
  (i4b2.south east) to (i4b2a.south west) (i4b2.south east) to (i4b2b.south west)
  (i4b2.south east) to (i4b2c.south west) (i4b2.south east) to (i4b2d.south west)
  (i4b2.south east) to (i4b2e.south west) (i4b2.south east) to (i4b2f.south west)
  (i4b3.south east) to (i4b3a.south west) (i4b3.south east) to (i4b3b.south west)
  (i4b3.south east) to (i4b3c.south west)
  (i4b3a.south east) to (i4b3a1.south west) (i4b3a.south east) to (i4b3a2.south west)
  (i4b3a.south east) to (i4b3a3.south west) (i4b3a.south east) to (i4b3a4.south west)
  (i4b3a3.south east) to (i4b3a3a.south west) (i4b3a4.south east) to (i4b3a4a.south west)
  (i4b3b.south east) to (i4b3b1.south west) (i4b3b1.south east) to (i4b3b2.south west)
  (i4b3c.south east) to (i4b3c1.south west);

% 进程线程
\node[leaf, fold] (k1) at (877,-5748) {多进程};
\node[leaf, fold] (k1a) at (964,-5700) {Python的os模块封装了常见的系统调用，其中就包括fork};
\node[leaf] (k1a1) at (1341,-5700) {windows下无法运行。};
\node[leaf, fold] (k1b) at (964,-5797) {multiprocessing模块就是跨平台版本的多进程模块。};
\node[leaf] (k1b1) at (1315,-5732) {提供了一个Process类来代表一个进程对象};
\node[leaf, fold] (k1b2) at (1315,-5797) {Process(target=run\_proc, args=('test',))};
\node[leaf] (k1b2a) at (1603,-5765) {用start()方法启动，};
\node[leaf] (k1b2b) at (1603,-5797) {join()方法可以等待子进程结束后再继续往下运行，};
\node[leaf, fold] (k1b2c) at (1603,-5828) {pool()};
\node[leaf] (k1b2c1) at (1686,-5828) {进程池创建};
\node[leaf, fold] (k1b3) at (1315,-5860) {进程间通信};
\node[leaf] (k1b3a) at (1427,-5860) {Python的multiprocessing模块包装了底层的机制，提供了Queue、Pipes等多种方式来交换数据。};
\node[leaf, fold] (k2) at (877,-6004) {多线程};
\node[leaf] (k2a) at (964,-5892) {thread和threading，thread是低级模块，threading是高级模块};
\node[leaf, fold] (k2b) at (964,-5972) {threading.Thread(target=loop, name='LoopThread')};
\node[leaf] (k2b1) at (1327,-5924) {t.start()};
\node[leaf] (k2b2) at (1327,-5956) {t.join()};
\node[leaf, fold] (k2b3) at (1327,-6020) {threading.Lock()};
\node[leaf] (k2b3a) at (1475,-5988) {lock.acquire()};
\node[leaf] (k2b3b) at (1475,-6020) {lock.release()};
\node[leaf, fold] (k2b3c) at (1475,-6052) {try...finally};
\node[leaf] (k2b3c1) at (1584,-6052) {确保锁的完全释放};
\node[leaf] (k2c) at (964,-6084) {关于GIL的历史遗留问题};
\node[leaf, fold] (k2d) at (964,-6116) {针对于参数数据获取的问题做出的优化解决};
\node[leaf, fold] (k2d1) at (1257,-6116) {ThreadLocal};
\node[leaf] (k2d2) at (1379,-6116) {内部处理的多线程访问问题};

\path[link] (t10o) to (k1.south west) (t10o) to (k2.south west)
  (k1.south east) to (k1a.south west) (k1.south east) to (k1b.south west)
  (k1a.south east) to (k1a1.south west)
  (k1b.south east) to (k1b1.south west) (k1b.south east) to (k1b2.south west)
  (k1b.south east) to (k1b3.south west)
  (k1b2.south east) to (k1b2a.south west) (k1b2.south east) to (k1b2b.south west)
  (k1b2.south east) to (k1b2c.south west) (k1b2c.south east) to (k1b2c1.south west)
  (k1b3.south east) to (k1b3a.south west)
  (k2.south east) to (k2a.south west) (k2.south east) to (k2b.south west)
  (k2.south east) to (k2c.south west) (k2.south east) to (k2d.south west)
  (k2b.south east) to (k2b1.south west) (k2b.south east) to (k2b2.south west)
  (k2b.south east) to (k2b3.south west)
  (k2b3.south east) to (k2b3a.south west) (k2b3.south east) to (k2b3b.south west)
  (k2b3.south east) to (k2b3c.south west) (k2b3c.south east) to (k2b3c1.south west)
  (k2d.south east) to (k2d1.south west) (k2d1.south east) to (k2d2.south west);

% 正则表达式 (left side)
\node[leafl, foldl] (r1) at (395,-3053) {re模块};
\node[leafl] (r1a) at (311,-3021) {re.split(r'[\textbackslash s\textbackslash ,]+', 'a,b, c\ \ d')};
\node[leafl] (r1b) at (311,-3053) {re.match(r'\textasciicircum(\textbackslash d\{3\})-(\textbackslash d\{3,8\})\$', '010-12345')};
\node[leafl] (r1c) at (311,-3085) {re.match(r'\textasciicircum(\textbackslash d+)(0*)\$', '102300').groups()};
\path[linkl] (reo) to (r1.south east)
  (r1.south west) to (r1a.south east) (r1.south west) to (r1b.south east)
  (r1.south west) to (r1c.south east);

\node[wmark] (wm) at (2046,-6113) {https://blog.csdn.net/q1239678315};
\end{tikzpicture}
\end{document}
